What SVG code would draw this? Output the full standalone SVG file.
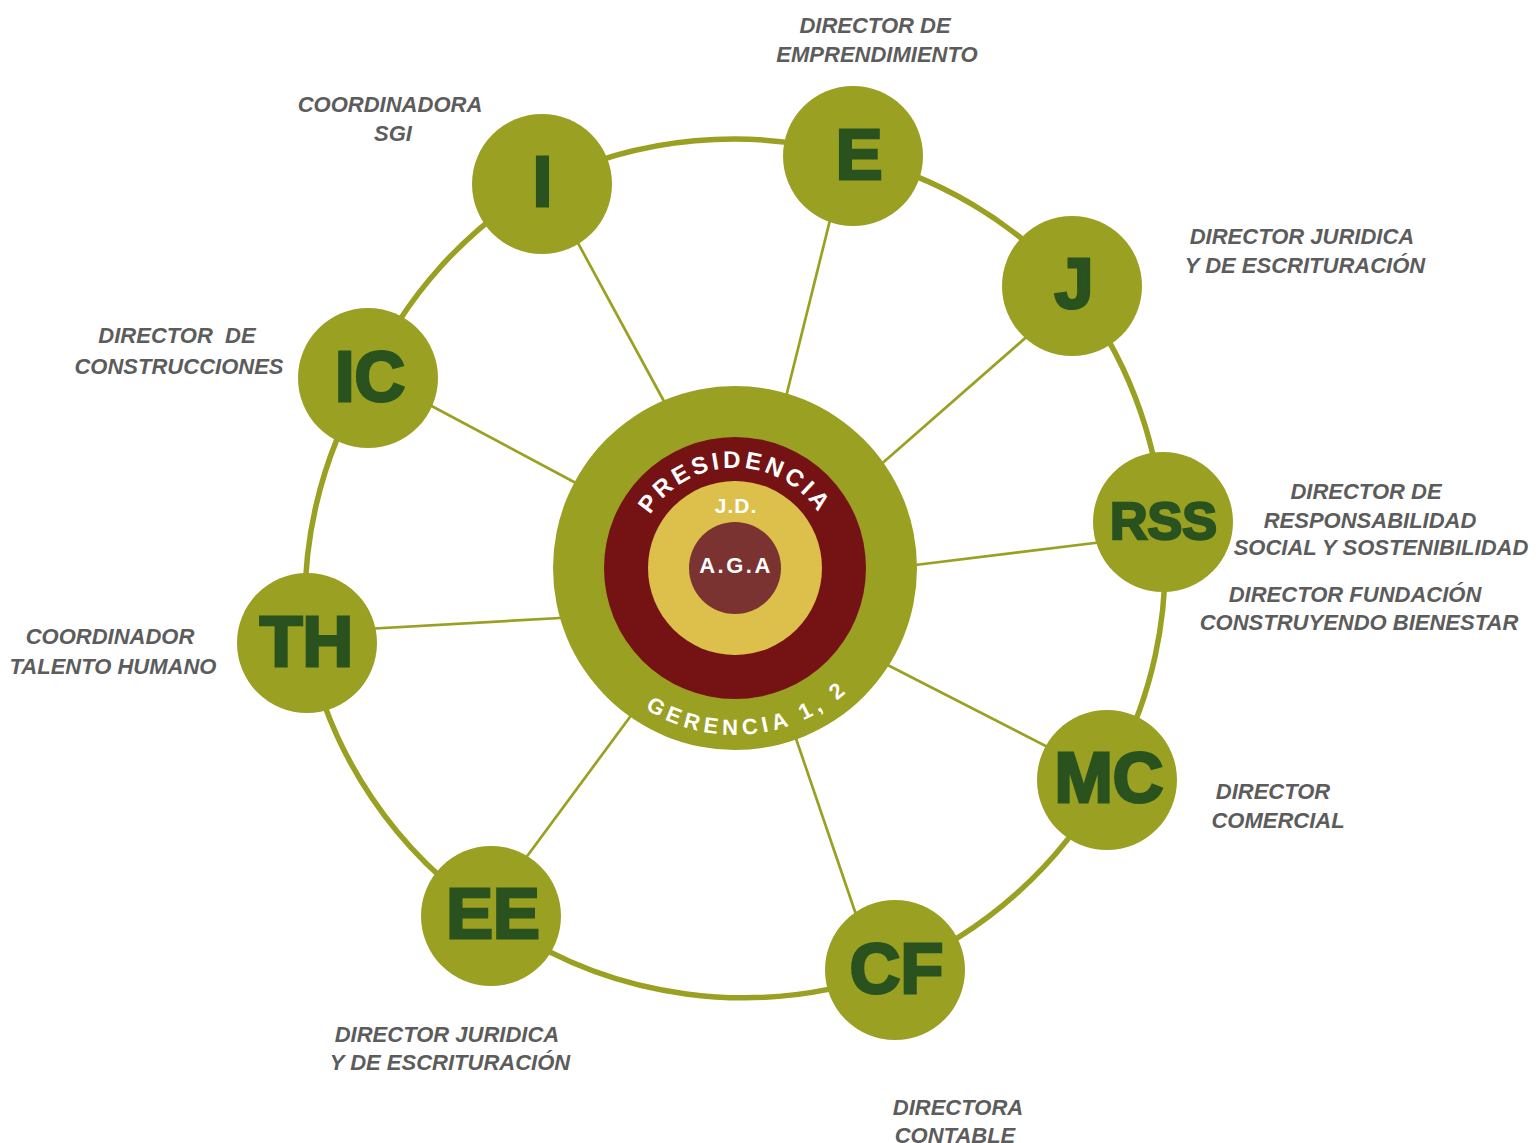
<svg xmlns="http://www.w3.org/2000/svg" width="1540" height="1143" viewBox="0 0 1540 1143">
<style>
.ring{fill:none;stroke:#9aa022;stroke-width:5.5}
.spoke{stroke:#9aa022;stroke-width:2.7;fill:none}
.node{fill:#9aa022}
.ltr{font-family:"Liberation Sans",Arial,sans-serif;font-weight:bold;font-size:70px;fill:#29521f;stroke:#29521f;stroke-width:3;stroke-linejoin:miter;text-anchor:middle}
.lbl{font-family:"Liberation Sans",Arial,sans-serif;font-weight:bold;font-style:italic;font-size:22px;fill:#5c5c5c;text-anchor:middle}
.ctr{font-family:"Liberation Sans",Arial,sans-serif;font-weight:bold;fill:#ffffff}
</style>
<defs>
<path id="arcTop" d="M 636.5 550.6 A 100 100 0 0 1 833.5 550.6"/>
<path id="arcBot" d="M 590.4 651.5 A 167 167 0 0 0 879.6 651.5"/>
</defs>
<rect width="1540" height="1143" fill="#ffffff"/>
<g id="connectors">
<path class="ring" d="M 542 184 A 430 430 0 0 1 853 156 A 430 430 0 0 1 1072 286 A 430 430 0 0 1 1163 522 A 430 430 0 0 1 1107 780 A 430 430 0 0 1 895 970 A 430 430 0 0 1 491 916 A 430 430 0 0 1 307 643 A 430 430 0 0 1 368 378 A 430 430 0 0 1 542 184"/>
<line class="spoke" x1="566" y1="221" x2="672" y2="416"/>
<line class="spoke" x1="836" y1="196" x2="783" y2="409"/>
<line class="spoke" x1="1047" y1="319" x2="870" y2="474"/>
<line class="spoke" x1="411" y1="395" x2="589" y2="490"/>
<line class="spoke" x1="1119" y1="540" x2="899" y2="567"/>
<line class="spoke" x1="348" y1="630" x2="578" y2="617"/>
<line class="spoke" x1="1069" y1="758" x2="872" y2="657"/>
<line class="spoke" x1="511" y1="878" x2="641" y2="702"/>
<line class="spoke" x1="864" y1="938" x2="790" y2="721"/>
</g>
<g id="center">
<circle cx="735" cy="568" r="182" fill="#9aa022"/>
<circle cx="735" cy="568" r="131" fill="#751214"/>
<circle cx="735" cy="568" r="87" fill="#dcc04b"/>
<circle cx="735" cy="568" r="46" fill="#7a3330"/>
<text class="ctr" style="font-size:24px" letter-spacing="3.5"><textPath href="#arcTop" startOffset="50%" text-anchor="middle">PRESIDENCIA</textPath></text>
<text class="ctr" style="font-size:22px" letter-spacing="4.8"><textPath href="#arcBot" startOffset="54.5%" text-anchor="middle">GERENCIA 1, 2</textPath></text>
<text class="ctr" x="736" y="513" style="font-size:21px" letter-spacing="1" text-anchor="middle" fill="#fff3d6">J.D.</text>
<text class="ctr" x="736" y="573" style="font-size:22px" letter-spacing="2.5" text-anchor="middle">A.G.A</text>
</g>
<g id="node-I"><circle class="node" cx="542" cy="184" r="70"/><text class="ltr" x="542.5" y="206">I</text></g>
<g id="node-E"><circle class="node" cx="853" cy="156" r="70"/><text class="ltr" x="859" y="179">E</text></g>
<g id="node-J"><circle class="node" cx="1072" cy="286" r="70"/><text class="ltr" x="1074" y="308">J</text></g>
<g id="node-IC"><circle class="node" cx="368" cy="378" r="70"/><text class="ltr" x="370" y="401">IC</text></g>
<g id="node-RSS"><circle class="node" cx="1163" cy="522" r="70"/><text class="ltr" x="1163.5" y="539" style="font-size:52px;stroke-width:2.5">RSS</text></g>
<g id="node-TH"><circle class="node" cx="307" cy="643" r="70"/><text class="ltr" x="306.5" y="666">TH</text></g>
<g id="node-MC"><circle class="node" cx="1107" cy="780" r="70"/><text class="ltr" x="1109" y="802">MC</text></g>
<g id="node-EE"><circle class="node" cx="491" cy="916" r="70"/><text class="ltr" x="493" y="938">EE</text></g>
<g id="node-CF"><circle class="node" cx="895" cy="970" r="70"/><text class="ltr" x="896.5" y="993">CF</text></g>
<g id="labels">
<text class="lbl" x="875" y="33">DIRECTOR DE</text>
<text class="lbl" x="877" y="62">EMPRENDIMIENTO</text>
<text class="lbl" x="390" y="112">COORDINADORA</text>
<text class="lbl" x="393" y="141">SGI</text>
<text class="lbl" x="1302" y="244">DIRECTOR JURIDICA</text>
<text class="lbl" x="1305" y="273">Y DE ESCRITURACIÓN</text>
<text class="lbl" x="177" y="343" xml:space="preserve">DIRECTOR  DE</text>
<text class="lbl" x="179" y="374">CONSTRUCCIONES</text>
<text class="lbl" x="1366" y="499">DIRECTOR DE</text>
<text class="lbl" x="1370" y="528">RESPONSABILIDAD</text>
<text class="lbl" x="1381" y="555">SOCIAL Y SOSTENIBILIDAD</text>
<text class="lbl" x="1355" y="602">DIRECTOR FUNDACIÓN</text>
<text class="lbl" x="1359" y="630">CONSTRUYENDO BIENESTAR</text>
<text class="lbl" x="110" y="644">COORDINADOR</text>
<text class="lbl" x="113" y="674">TALENTO HUMANO</text>
<text class="lbl" x="1273" y="799">DIRECTOR</text>
<text class="lbl" x="1278" y="828">COMERCIAL</text>
<text class="lbl" x="447" y="1042">DIRECTOR JURIDICA</text>
<text class="lbl" x="450" y="1070">Y DE ESCRITURACIÓN</text>
<text class="lbl" x="958" y="1115">DIRECTORA</text>
<text class="lbl" x="955" y="1143">CONTABLE</text>
</g>
</svg>
